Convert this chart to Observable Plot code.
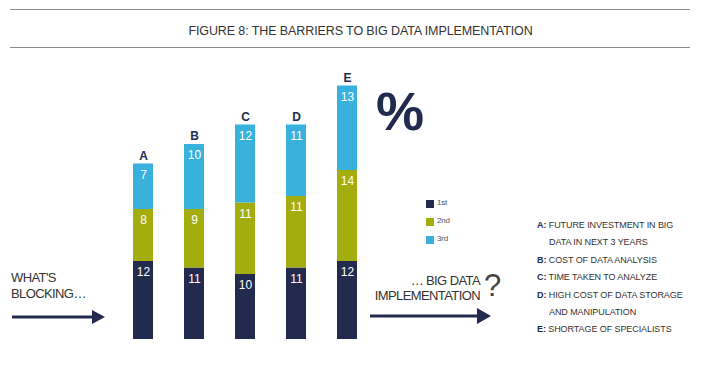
<!DOCTYPE html>
<html><head><meta charset="utf-8">
<script src="https://cdn.jsdelivr.net/npm/d3@7"></script>
<script src="https://cdn.jsdelivr.net/npm/@observablehq/plot@0.6"></script>
<style>
body{margin:0;background:#fff;font-family:"Liberation Sans",Arial,sans-serif;}
#wrap{position:relative;width:709px;height:372px;overflow:hidden;}
#wrap > *{position:absolute;}
.t{color:#333;white-space:nowrap;}
</style></head>
<body><div id="wrap"></div>
<script>
const categories = ["A","B","C","D","E"];
const ranks = ["1st","2nd","3rd"];
const first  = [12, 11, 10, 11, 12];
const second = [8, 9, 11, 11, 14];
const third  = [7, 10, 12, 11, 13];
const colors = ["#222b4d", "#a4ad0e", "#38b1dd"];
const notes = [
  ["A:", "FUTURE INVESTMENT IN BIG", "DATA IN NEXT 3 YEARS"],
  ["B:", "COST OF DATA ANALYSIS"],
  ["C:", "TIME TAKEN TO ANALYZE"],
  ["D:", "HIGH COST OF DATA STORAGE", "AND MANIPULATION"],
  ["E:", "SHORTAGE OF SPECIALISTS"]
];
const title = "FIGURE 8: THE BARRIERS TO BIG DATA IMPLEMENTATION";

const series = [first, second, third];
const data = [];
ranks.forEach((r, i) => categories.forEach((c, j) => data.push({cat: c, rank: r, value: series[i][j]})));
const totals = categories.map((c, j) => ({cat: c, total: first[j] + second[j] + third[j]}));

const wrap = document.getElementById("wrap");

const chart = Plot.plot({
  width: 709, height: 372,
  margin: 0,
  x: {type: "band", domain: categories, range: [102.4, 388], padding: 0.6, axis: null},
  y: {domain: [0, 40], range: [339, 79], axis: null},
  color: {domain: ranks, range: colors},
  style: {fontFamily: "'Liberation Sans', Arial, sans-serif", background: "transparent"},
  marks: [
    Plot.barY(data, Plot.stackY({x: "cat", y: "value", z: "rank", fill: "rank"})),
    Plot.text(data, Plot.stackY2({x: "cat", y: "value", z: "rank", text: d => String(d.value), fill: "white", dy: 11, fontSize: 12})),
    Plot.text(totals, {x: "cat", y: "total", text: "cat", dy: -8, fontWeight: "bold", fontSize: 12, fill: "#222b4d"})
  ]
});
wrap.appendChild(chart);
chart.style.left = "0px"; chart.style.top = "0px";

function add(html, css) {
  const d = document.createElement("div");
  d.className = "t";
  d.innerHTML = html;
  Object.assign(d.style, css);
  wrap.appendChild(d);
  return d;
}

// title & rules
add("", {left: "10px", top: "9px", width: "680px", height: "0", borderTop: "1.5px solid #8a8a8a"});
add("", {left: "10px", top: "47px", width: "680px", height: "0", borderTop: "1.5px solid #8a8a8a"});
add(title, {left: "6px", width: "709px", textAlign: "center", top: "24px", fontSize: "12.5px", letterSpacing: "-0.1px", color: "#333"});

// percent
add("%", {left: "376px", top: "80px", fontSize: "54px", fontWeight: "bold", color: "#222b4d"});

// legend
ranks.forEach((r, i) => {
  add("", {left: "426px", top: (200 + i * 18) + "px", width: "8px", height: "8px", background: colors[i]});
  add(r, {left: "437px", top: (198 + i * 18) + "px", fontSize: "8px", color: "#555", letterSpacing: "-0.2px"});
});

// left text
add("WHAT'S<br>BLOCKING…", {left: "11px", top: "270px", fontSize: "13px", lineHeight: "16px", letterSpacing: "-0.6px", color: "#333"});
// right text
add("… BIG DATA<br>IMPLEMENTATION", {left: "360px", width: "120px", textAlign: "right", top: "273px", fontSize: "13px", lineHeight: "15px", letterSpacing: "-0.6px", color: "#333"});
add("?", {left: "484px", top: "268px", fontSize: "31px", color: "#444"});

// notes
let yy = 220;
notes.forEach(n => {
  add("<b style='color:#222b4d'>" + n[0] + "</b> " + n[1], {left: "537px", top: yy + "px", fontSize: "9px", letterSpacing: "-0.08px", color: "#333"});
  yy += 17.4;
  if (n[2]) {
    add(n[2], {left: "549px", top: yy + "px", fontSize: "9px", letterSpacing: "-0.08px", color: "#333"});
    yy += 17.4;
  }
});

// arrows
const ns = "http://www.w3.org/2000/svg";
const svg = document.createElementNS(ns, "svg");
svg.setAttribute("width", 709); svg.setAttribute("height", 372);
svg.style.left = "0"; svg.style.top = "0";
svg.innerHTML = `
  <line x1="12" y1="317" x2="94" y2="317" stroke="#222b4d" stroke-width="3"/>
  <polygon points="92,310 105,317 92,324" fill="#222b4d"/>
  <line x1="370" y1="316" x2="480" y2="316" stroke="#222b4d" stroke-width="3"/>
  <polygon points="477,308 491,316 477,324" fill="#222b4d"/>`;
wrap.appendChild(svg);
</script></body></html>
